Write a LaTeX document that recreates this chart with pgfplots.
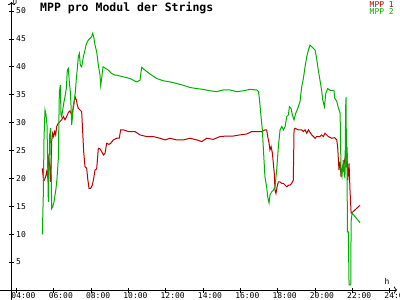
\documentclass[border=0pt]{standalone}
\usepackage{pgfplots}
\pgfplotsset{compat=1.18}
\usepackage{pgfplotstable}
\usepackage{fontspec}
\setmainfont{DejaVu Sans Mono}
\usetikzlibrary{arrows.meta}
\definecolor{mppred}{RGB}{192,0,0}
\definecolor{mppgreen}{RGB}{0,176,0}

\pgfplotstableread{
x y
5.385 21.8
5.439 20.0
5.49 19.7
5.564 20.3
5.617 21.2
5.671 20.3
5.725 23.6
5.778 22.4
5.832 19.4
5.886 26.6
5.939 28.1
5.993 27.5
6.047 28.4
6.10 27.8
6.154 29.3
6.243 29.9
6.333 30.2
6.422 30.5
6.511 31.1
6.601 30.5
6.69 31.1
6.779 31.8
6.869 32.1
6.958 31.4
7.047 32.6
7.137 34.65
7.208 34.05
7.262 33.15
7.316 32.55
7.405 32.26
7.494 31.96
7.548 28.4
7.601 24.8
7.673 22.1
7.762 21.8
7.816 20.0
7.887 18.2
7.977 18.2
8.066 18.8
8.138 20.0
8.209 21.5
8.298 21.7
8.388 25.4
8.477 25.3
8.566 24.8
8.656 24.2
8.745 24.5
8.835 26.3
8.96 26.1
9.05 26.3
9.19 26.9
9.37 27.2
9.51 27.2
9.585 28.7
9.73 28.7
9.996 28.4
10.35 28.4
10.62 27.8
10.98 27.5
11.34 27.5
11.69 27.2
11.96 26.9
12.23 27.2
12.59 26.9
12.945 26.9
13.30 27.2
13.66 26.9
13.93 26.6
14.20 27.2
14.55 27.0
14.91 27.5
15.27 27.6
15.63 27.6
15.98 27.8
16.34 27.96
16.61 28.4
17.06 28.4
17.15 28.4
17.32 28.7
17.41 28.7
17.47 27.5
17.54 26.3
17.59 25.1
17.65 25.7
17.72 24.5
17.77 22.7
17.82 20.9
17.86 17.9
17.91 17.3
17.97 18.5
18.04 19.4
18.13 19.4
18.22 19.1
18.31 19.1
18.40 18.8
18.49 18.5
18.58 18.8
18.66 18.8
18.75 19.1
18.84 19.7
18.88 28.7
18.93 29.0
19.11 28.7
19.29 28.7
19.38 28.4
19.47 28.7
19.56 28.1
19.65 28.7
19.83 27.8
20.01 27.2
20.09 27.5
20.27 27.5
20.36 27.8
20.45 27.5
20.54 28.1
20.72 27.5
20.90 27.2
21.06 27.3
21.17 26.9
21.22 25.6
21.29 21.5
21.35 23.0
21.40 20.3
21.47 22.1
21.52 21.5
21.58 23.0
21.67 24.7
21.72 24.5
21.76 19.7
21.83 22.7
21.88 17.9
21.94 13.8
21.97 13.8
22.42 15.2
}\mppone

\pgfplotstableread{
x y
5.385 9.98
5.439 17.3
5.475 27.2
5.528 32.25
5.582 31.4
5.635 29.6
5.707 15.8
5.778 27.8
5.832 29.0
5.886 14.6
5.939 14.9
6.011 15.8
6.064 17.0
6.118 18.2
6.172 20.0
6.243 23.6
6.297 35.5
6.350 36.7
6.386 31.4
6.422 31.1
6.493 32.6
6.547 33.75
6.601 34.65
6.672 36.1
6.726 39.4
6.779 39.7
6.833 37.3
6.887 35.5
6.922 33.2
6.958 29.6
6.994 30.8
7.047 33.2
7.101 34.05
7.155 35.5
7.208 37.9
7.262 39.7
7.316 41.8
7.369 42.4
7.423 40.3
7.494 40.0
7.584 41.8
7.673 43.0
7.727 43.9
7.798 44.5
7.852 44.8
7.941 45.1
8.030 45.4
8.084 46.0
8.138 45.4
8.209 43.9
8.298 42.7
8.388 40.3
8.477 38.5
8.513 36.7
8.566 37.9
8.638 40.0
8.745 39.8
8.924 39.4
9.103 38.8
9.282 38.5
9.37 38.5
9.73 38.2
10.085 37.9
10.44 37.3
10.62 37.6
10.71 39.9
10.89 39.4
11.16 38.7
11.52 37.9
11.87 37.5
12.23 37.3
12.59 37.0
12.945 36.7
13.30 36.3
13.66 36.1
14.02 35.96
14.375 35.7
14.73 35.55
15.09 35.85
15.45 35.85
15.805 35.55
16.16 35.7
16.52 35.96
16.88 35.85
16.97 35.6
17.02 34.4
17.11 31.1
17.18 28.7
17.25 24.5
17.32 20.3
17.41 18.5
17.47 16.7
17.54 15.6
17.59 17.0
17.68 17.6
17.77 17.9
17.86 18.5
17.95 21.5
18.04 25.7
18.13 28.7
18.22 29.3
18.31 28.7
18.40 29.3
18.49 31.1
18.58 31.4
18.63 32.85
18.72 32.55
18.79 31.4
18.88 30.5
18.97 31.66
19.08 32.55
19.20 33.75
19.29 36.4
19.38 37.9
19.47 40.0
19.56 41.8
19.65 43.0
19.74 43.9
19.83 43.6
19.92 43.3
20.01 43.0
20.09 41.5
20.18 39.4
20.27 37.6
20.36 35.8
20.42 34.05
20.51 32.85
20.58 35.2
20.68 36.1
20.81 35.8
21.02 35.8
21.06 34.4
21.17 33.8
21.26 32.6
21.35 31.7
21.40 21.0
21.45 20.3
21.52 23.3
21.56 21.5
21.61 20.0
21.65 33.0
21.67 34.6
21.69 22.0
21.72 25.7
21.74 10.4
21.79 10.4
21.83 0.9
21.92 0.9
21.94 12.2
21.99 13.8
22.42 12.06
}\mpptwo

\begin{document}
\begin{tikzpicture}
\begin{axis}[
  at={(11.5pt,0pt)}, anchor=south west,
  scale only axis, width=385.5pt, height=297.9pt,
  xmin=3.732, xmax=24.4, ymin=-1.79, ymax=51.6,
  axis x line=middle, axis y line=left,
  axis line style={line width=0.8pt, -{To[length=3pt,width=7pt]}},
  xtick={4,6,...,24},
  xticklabels={04:00,06:00,08:00,10:00,12:00,14:00,16:00,18:00,20:00,22:00,24:00},
  ytick={5,10,...,50},
  tick align=center, major tick length=5pt,
  tick style={black, line width=0.8pt},
  /pgf/number format/assume math mode=true,
  ticklabel style={font=\fontsize{8}{9}\selectfont, inner sep=0pt},
  xticklabel style={anchor=north, yshift=0pt, xshift=7pt},
  yticklabel style={anchor=west, xshift=7pt},
  clip=false,
]
\addplot[mppred, line width=1pt] table[x=x,y=y] {\mppone};
\addplot[mppgreen, line width=1pt] table[x=x,y=y] {\mpptwo};
\end{axis}
\draw[line width=0.8pt] (0pt,10pt) -- (11.5pt,10pt);
\node[anchor=west, inner sep=0pt, font=\bfseries\fontsize{11.5}{12}\selectfont] at (40pt,292pt) {MPP pro Modul der Strings};
\node[anchor=east, inner sep=0pt, text=mppred, font=\fontsize{8}{9}\selectfont] at (394pt,295pt) {MPP 1};
\node[anchor=east, inner sep=0pt, text=mppgreen, font=\fontsize{8}{9}\selectfont] at (394pt,288pt) {MPP 2};
\node[inner sep=0pt, font=\fontsize{7}{8}\selectfont] at (15pt,298pt) {U};
\node[inner sep=0pt, font=\fontsize{8}{9}\selectfont] at (387pt,18.5pt) {h};
\pgfresetboundingbox
\path[use as bounding box] (0pt,0pt) rectangle (400pt,300pt);
\end{tikzpicture}
\end{document}
